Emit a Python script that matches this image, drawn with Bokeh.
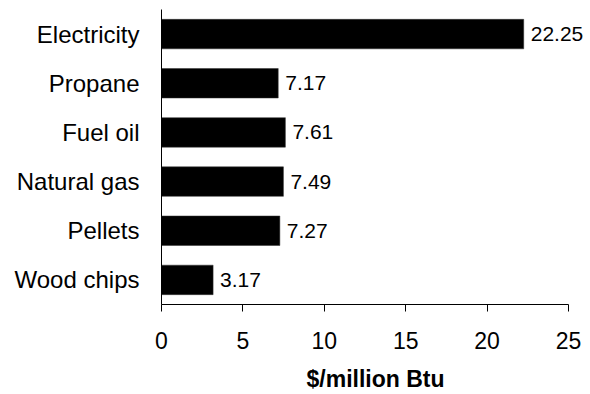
from bokeh.plotting import figure
from bokeh.models import ColumnDataSource, FactorRange, Range1d, FixedTicker, LabelSet
from bokeh.core.properties import value
from bokeh.embed import file_html
from bokeh.resources import INLINE

categories = ["Electricity", "Propane", "Fuel oil", "Natural gas", "Pellets", "Wood chips"]
values = [22.25, 7.17, 7.61, 7.49, 7.27, 3.17]
value_labels = ["22.25", "7.17", "7.61", "7.49", "7.27", "3.17"]
x_ticks = [0, 5, 10, 15, 20, 25]

src = ColumnDataSource(dict(cat=categories, val=values, lab=value_labels))

p = figure(
    width=590, height=394,
    y_range=FactorRange(factors=list(reversed(categories)), range_padding=0),
    x_range=Range1d(0, 26.29),
    output_backend="svg", toolbar_location=None,
    min_border_left=161, min_border_right=1, min_border_top=9, min_border_bottom=90,
)
p.hbar(y="cat", right="val", left=0, height=0.6, source=src,
       fill_color="black", line_color="#333333", line_width=0.5)

labels = LabelSet(x="val", y="cat", text="lab", source=src, x_offset=7,
                  text_baseline="middle", text_align="left",
                  text_font=value("Liberation Sans"), text_font_size="21px", text_color="black")
p.add_layout(labels)

p.outline_line_color = None
p.xgrid.visible = False
p.ygrid.visible = False
p.background_fill_color = "white"
p.border_fill_color = "white"

xa = p.xaxis[0]
xa.ticker = FixedTicker(ticks=x_ticks)
xa.bounds = (0, 25)
xa.major_tick_out = 7
xa.major_tick_in = 0
xa.minor_tick_out = 0
xa.minor_tick_in = 0
xa.axis_line_color = "black"
xa.major_tick_line_color = "black"
xa.major_label_text_font = "Liberation Sans"
xa.major_label_text_font_size = "23px"
xa.major_label_text_color = "black"
xa.major_label_standoff = 20
xa.axis_label = "$/million Btu"
xa.axis_label_text_font = "Liberation Sans"
xa.axis_label_text_font_size = "23px"
xa.axis_label_text_font_style = "bold"
xa.axis_label_text_color = "black"
xa.axis_label_standoff = 14

ya = p.yaxis[0]
ya.major_tick_out = 0
ya.major_tick_in = 0
ya.minor_tick_out = 0
ya.axis_line_color = "black"
ya.major_label_text_font = "Liberation Sans"
ya.major_label_text_font_size = "24px"
ya.major_label_text_color = "black"
ya.major_label_standoff = 22

open("out.html", "w").write(file_html(p, INLINE))
